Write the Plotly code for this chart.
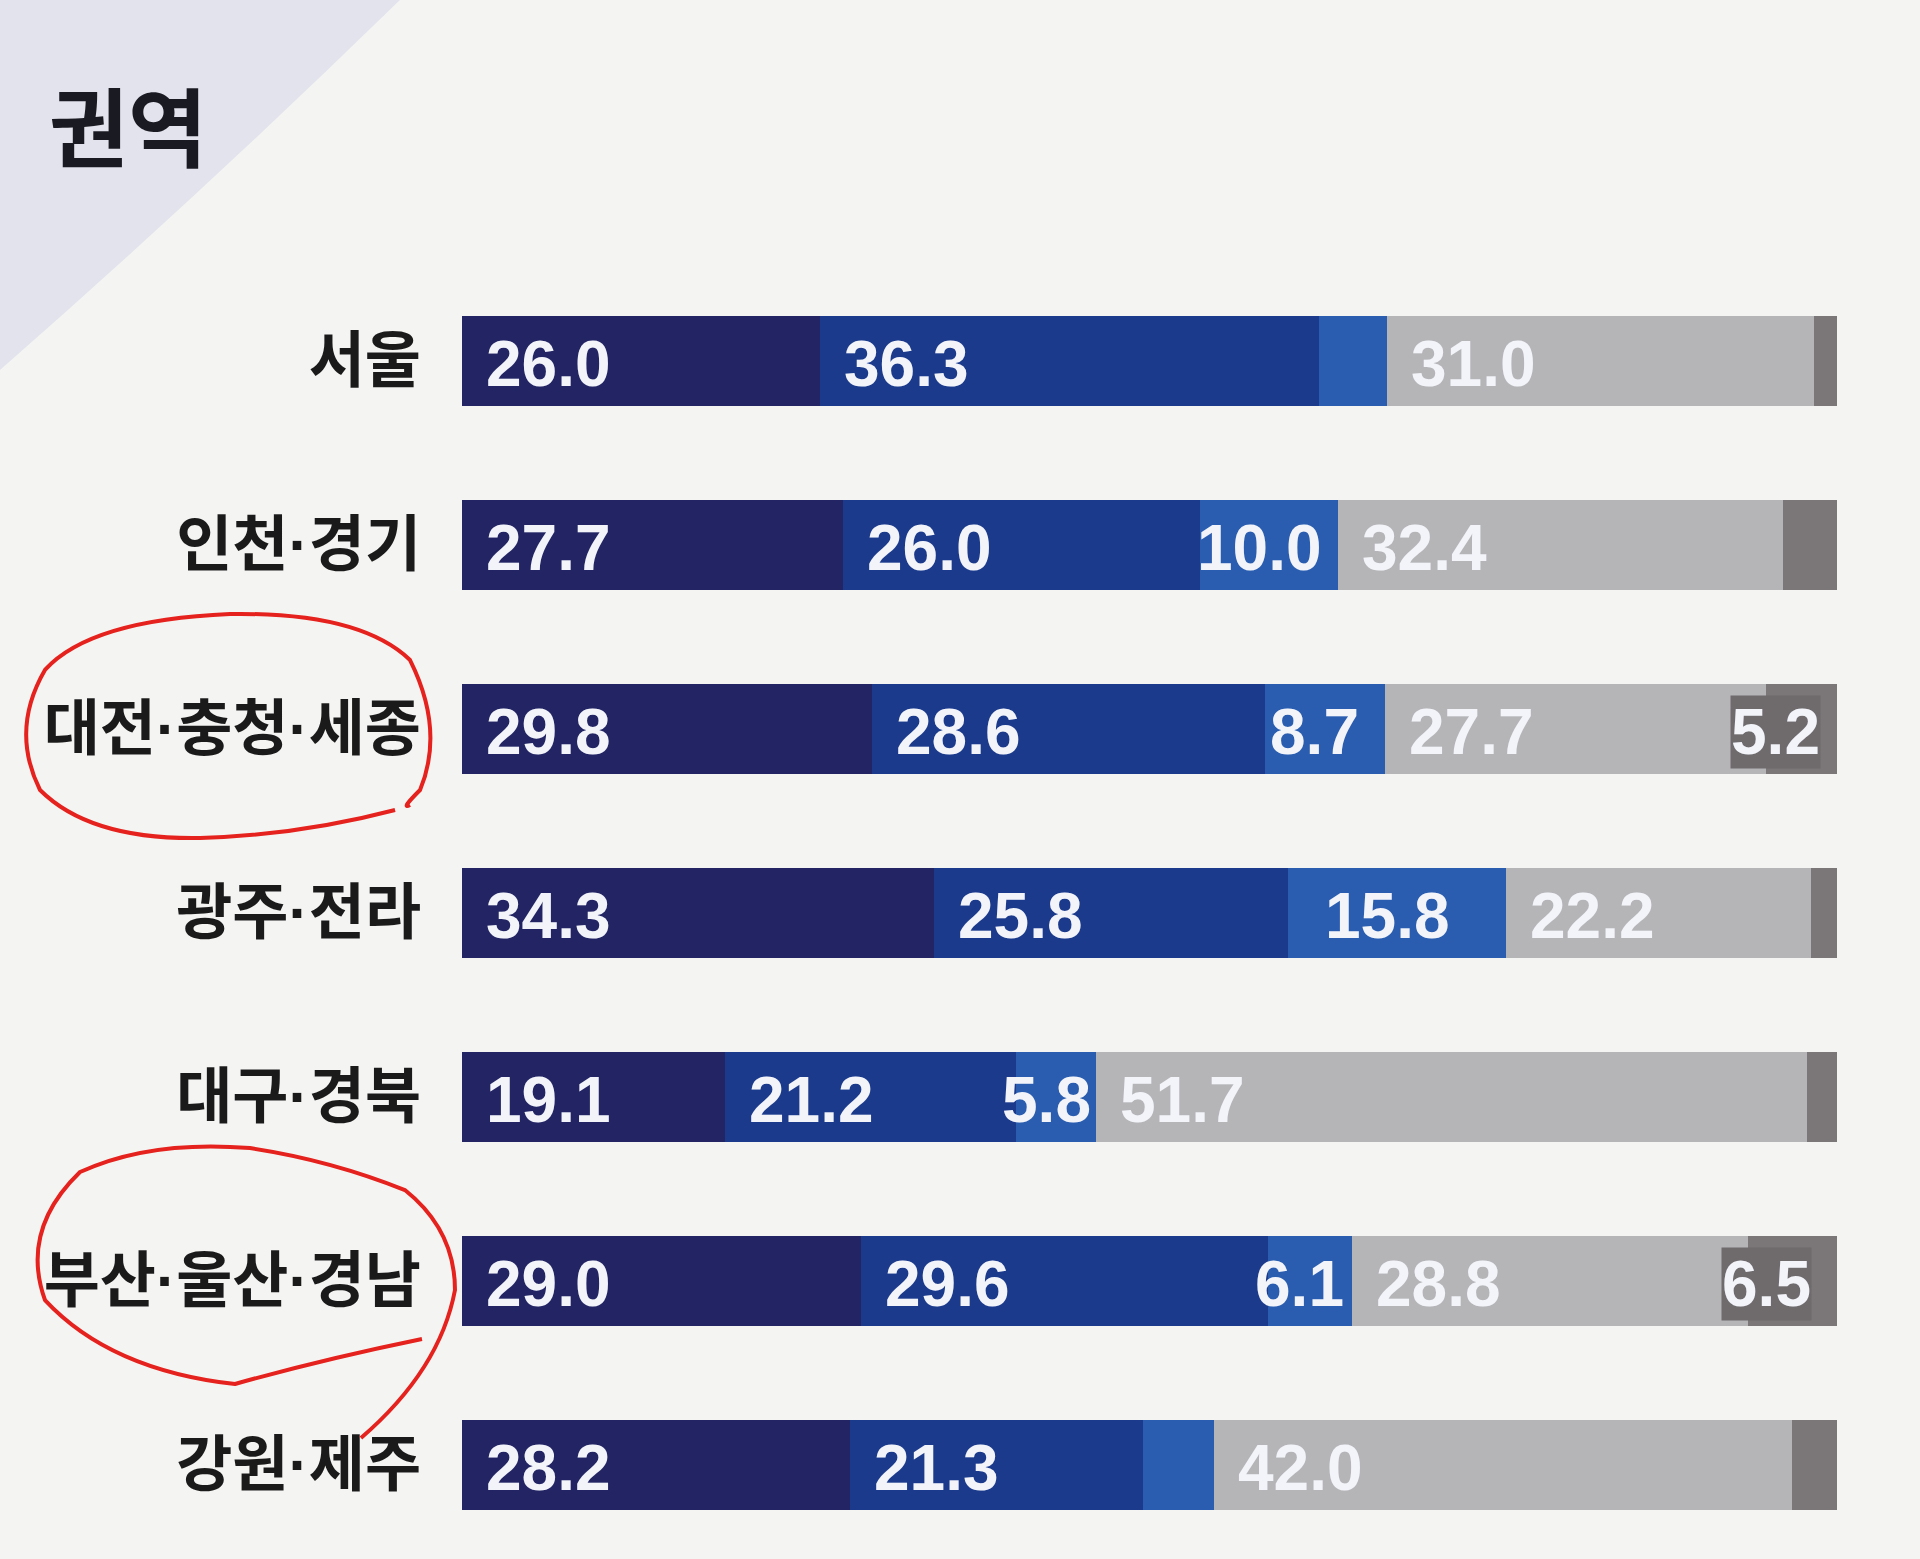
import numpy as np
import plotly.graph_objects as go

# 권역별 응답 비율 (%)
regions = ["서울", "인천·경기", "대전·충청·세종", "광주·전라", "대구·경북", "부산·울산·경남", "강원·제주"]
seg1 = [26.0, 27.7, 29.8, 34.3, 19.1, 29.0, 28.2]
seg2 = [36.3, 26.0, 28.6, 25.8, 21.2, 29.6, 21.3]
seg3 = [5.0, 10.0, 8.7, 15.8, 5.8, 6.1, 5.2]
seg4 = [31.0, 32.4, 27.7, 22.2, 51.7, 28.8, 42.0]
seg5 = [1.7, 3.9, 5.2, 1.9, 2.2, 6.5, 3.3]
show3 = [False, True, True, True, True, True, False]
show5 = [False, False, True, False, False, True, False]

colors = ["#222463", "#1b3a8c", "#2a5daf", "#b5b5b7", "#7b7779"]
series = [seg1, seg2, seg3, seg4, seg5]

W, H = 1920, 1559
ML, MR, MT, MB = 462, 83, 269, 2
PW, PH = W - ML - MR, H - MT - MB


def px_path(pts):
    # pixel points -> paper-coordinate smooth path
    conv = [((x - ML) / PW, (H - MB - y) / PH) for x, y in pts]
    d = "M %.4f,%.4f" % conv[0]
    for i in range(1, len(conv) - 1, 2):
        d += " Q %.4f,%.4f %.4f,%.4f" % (conv[i] + conv[i + 1])
    return d


fig = go.Figure()
for vals, col in zip(series, colors):
    fig.add_trace(go.Bar(
        y=regions, x=vals, orientation="h",
        marker=dict(color=col, line=dict(width=0)),
        hoverinfo="skip", showlegend=False,
    ))

starts = np.cumsum([[0] * len(regions)] + series[:-1], axis=0)
numfont = dict(family="Liberation Sans", size=64, color="#f2f4fa", weight="bold")
annotations = []
for k, vals in enumerate(series):
    for i, v in enumerate(vals):
        if k == 2 and not show3[i]:
            continue
        if k == 4 and not show5[i]:
            continue
        s = starts[k][i]
        a = dict(xref="x", yref="y", y=regions[i], text="%.1f" % v,
                 showarrow=False, font=numfont, yshift=-3)
        if k in (0, 1, 3):
            a.update(x=s, xanchor="left", xshift=22)
        elif k == 2:
            a.update(x=s + v / 2, xanchor="center", xshift=-10)
        else:
            a.update(x=s + v / 2, xanchor="center", xshift=-26,
                     bgcolor="#6f6b6d", borderpad=0)
        annotations.append(a)

shapes = [
    # paper corner in the top-left
    dict(type="path", xref="paper", yref="paper", layer="below", line=dict(width=0),
         fillcolor="#e2e3ec",
         path=px_path([(0, 0), (200, 0), (400, 0), (200, 195), (0, 370)]) + " Z"),
    # red hand-drawn loops
    dict(type="path", xref="paper", yref="paper", line=dict(color="#e5221d", width=4),
         path=px_path([(395, 810), (300, 835), (200, 838), (90, 840), (40, 790),
                       (10, 730), (45, 670), (90, 620), (230, 614), (360, 612),
                       (410, 660), (445, 730), (420, 790), (400, 810), (410, 805)])),
    dict(type="path", xref="paper", yref="paper", line=dict(color="#e5221d", width=4),
         path=px_path([(422, 1339), (320, 1360), (235, 1384), (110, 1370), (45, 1300),
                       (20, 1230), (80, 1172), (150, 1140), (250, 1148), (330, 1160),
                       (405, 1190), (455, 1230), (455, 1290), (440, 1370), (361, 1438)])),
]

fig.update_layout(
    width=W, height=H,
    margin=dict(l=ML, r=MR, t=MT, b=MB),
    paper_bgcolor="#f4f5f3", plot_bgcolor="#f4f5f3",
    barmode="stack", bargap=0.51,
    title=dict(text="<b>권역</b>", x=49 / W, xanchor="left", xref="container",
               y=1 - 131 / H, yanchor="middle", yref="container",
               font=dict(family="Noto Sans CJK KR", size=86, color="#1a1a22")),
    xaxis=dict(range=[0, 100], visible=False, fixedrange=True),
    yaxis=dict(autorange="reversed", showgrid=False, zeroline=False, showline=False,
               ticks="", ticklabelstandoff=40,
               tickfont=dict(family="Liberation Sans, Noto Sans CJK KR", size=61,
                             color="#1a1a1a", weight="bold")),
    annotations=annotations,
    shapes=shapes,
)

fig.write_html("out.html", config={"displayModeBar": False},
               post_script="document.body.style.margin='0';")
